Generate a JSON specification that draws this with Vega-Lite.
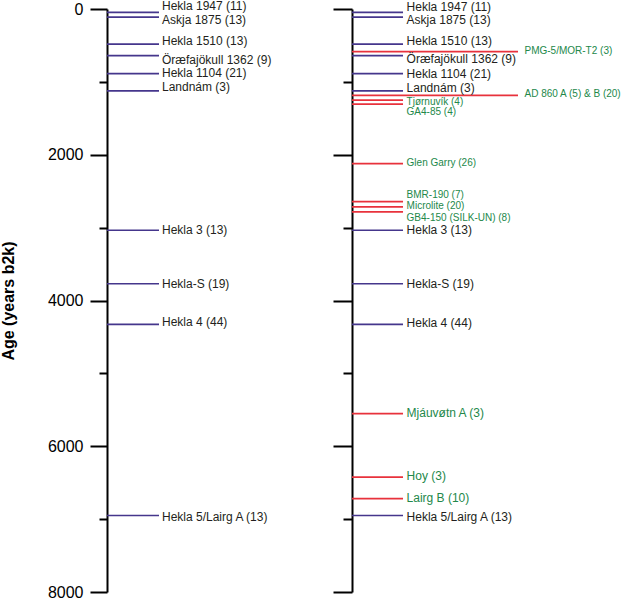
{
  "$schema": "https://vega.github.io/schema/vega-lite/v6.json",
  "padding": {"left": 0, "top": 0, "right": 0, "bottom": 0},
  "config": {
    "font": "Liberation Sans",
    "view": {"stroke": null},
    "axis": {
      "grid": false,
      "domainColor": "#000000",
      "domainWidth": 2,
      "tickColor": "#000000",
      "tickWidth": 2,
      "labelColor": "#000000",
      "labelFontSize": 16,
      "labelFont": "Liberation Sans",
      "titleFont": "Liberation Sans",
      "titleColor": "#000000",
      "titleFontSize": 16,
      "titleFontWeight": "bold"
    }
  },
  "datasets": {
    "iceland": [
      {"name": "Hekla 1947 (11)", "age": 45, "label_age": -41, "kind": "Icelandic"},
      {"name": "Askja 1875 (13)", "age": 112, "label_age": 146, "kind": "Icelandic"},
      {"name": "Hekla 1510 (13)", "age": 482, "label_age": 437, "kind": "Icelandic"},
      {"name": "Öræfajökull 1362 (9)", "age": 641, "label_age": 696, "kind": "Icelandic"},
      {"name": "Hekla 1104 (21)", "age": 886, "label_age": 880, "kind": "Icelandic"},
      {"name": "Landnám (3)", "age": 1123, "label_age": 1070, "kind": "Icelandic"},
      {"name": "Hekla 3 (13)", "age": 3036, "label_age": 3030, "kind": "Icelandic"},
      {"name": "Hekla-S (19)", "age": 3770, "label_age": 3767, "kind": "Icelandic"},
      {"name": "Hekla 4 (44)", "age": 4328, "label_age": 4300, "kind": "Icelandic"},
      {"name": "Hekla 5/Lairg A (13)", "age": 6950, "label_age": 6975, "kind": "Icelandic"}
    ],
    "europe": [
      {"name": "Hekla 1947 (11)", "age": 45, "label_age": -27, "kind": "Icelandic"},
      {"name": "Askja 1875 (13)", "age": 112, "label_age": 154, "kind": "Icelandic"},
      {"name": "Hekla 1510 (13)", "age": 482, "label_age": 436, "kind": "Icelandic"},
      {"name": "PMG-5/MOR-T2 (3)", "age": 586, "label_age": 577, "kind": "distal"},
      {"name": "Öræfajökull 1362 (9)", "age": 641, "label_age": 692, "kind": "Icelandic"},
      {"name": "Hekla 1104 (21)", "age": 886, "label_age": 892, "kind": "Icelandic"},
      {"name": "Landnám (3)", "age": 1123, "label_age": 1082, "kind": "Icelandic"},
      {"name": "AD 860 A (5) & B (20)", "age": 1186, "label_age": 1163, "kind": "distal"},
      {"name": "Tjørnuvík (4)", "age": 1250, "label_age": 1272, "kind": "distal"},
      {"name": "GA4-85 (4)", "age": 1304, "label_age": 1408, "kind": "distal"},
      {"name": "Glen Garry (26)", "age": 2122, "label_age": 2113, "kind": "distal"},
      {"name": "BMR-190 (7)", "age": 2644, "label_age": 2553, "kind": "distal"},
      {"name": "Microlite (20)", "age": 2716, "label_age": 2708, "kind": "distal"},
      {"name": "GB4-150 (SILK-UN) (8)", "age": 2785, "label_age": 2866, "kind": "distal"},
      {"name": "Hekla 3 (13)", "age": 3036, "label_age": 3039, "kind": "Icelandic"},
      {"name": "Hekla-S (19)", "age": 3770, "label_age": 3780, "kind": "Icelandic"},
      {"name": "Hekla 4 (44)", "age": 4328, "label_age": 4311, "kind": "Icelandic"},
      {"name": "Mjáuvøtn A (3)", "age": 5552, "label_age": 5538, "kind": "distal"},
      {"name": "Hoy (3)", "age": 6424, "label_age": 6402, "kind": "distal"},
      {"name": "Lairg B (10)", "age": 6720, "label_age": 6706, "kind": "distal"},
      {"name": "Hekla 5/Lairg A (13)", "age": 6950, "label_age": 6975, "kind": "Icelandic"}
    ]
  },
  "bounds": "flush",
  "spacing": 45,
  "hconcat": [
    {
      "width": 200,
      "height": 583,
      "data": {"name": "iceland"},
      "encoding": {
        "y": {
          "field": "age",
          "type": "quantitative",
          "title": "Age (years b2k)",
          "scale": {"domain": [0, 8000], "reverse": true, "nice": false, "zero": false},
          "axis": {
            "values": [0, 1000, 2000, 3000, 4000, 5000, 6000, 7000, 8000],
            "labelExpr": "datum.value % 2000 === 0 ? datum.label : ''",
            "format": "d",
            "tickSize": {"condition": {"test": "datum.value % 2000 === 0", "value": 17}, "value": 8},
            "labelPadding": 7,
            "titlePadding": 31
          }
        }
      },
      "layer": [
        {
          "mark": {"type": "rule", "strokeWidth": 1.7},
          "encoding": {
            "x": {"datum": 0, "type": "quantitative", "scale": {"domain": [0, 1]}, "axis": null},
            "x2": {"datum": 0.26},
            "stroke": {"field": "kind", "type": "nominal", "scale": {"domain": ["Icelandic", "distal"], "range": ["#45368c", "#e8323c"]}, "legend": null}
          }
        },
        {
          "mark": {"type": "text", "align": "left", "baseline": "middle", "fontSize": 12},
          "encoding": {
            "x": {"datum": 0.275, "type": "quantitative", "scale": {"domain": [0, 1]}, "axis": null},
            "y": {"field": "label_age", "type": "quantitative", "title": "Age (years b2k)"},
            "text": {"field": "name"},
            "fill": {"field": "kind", "type": "nominal", "scale": {"domain": ["Icelandic", "distal"], "range": ["#231f20", "#23884a"]}, "legend": null}
          }
        }
      ]
    },
    {
      "width": 265,
      "height": 583,
      "data": {"name": "europe"},
      "encoding": {
        "y": {
          "field": "age",
          "type": "quantitative",
          "title": null,
          "scale": {"domain": [0, 8000], "reverse": true, "nice": false, "zero": false},
          "axis": {
            "values": [0, 1000, 2000, 3000, 4000, 5000, 6000, 7000, 8000],
            "labels": false,
            "tickSize": {"condition": {"test": "datum.value % 2000 === 0", "value": 19}, "value": 9}
          }
        }
      },
      "layer": [
        {
          "transform": [{"filter": {"not": {"field": "name", "oneOf": ["PMG-5/MOR-T2 (3)", "AD 860 A (5) & B (20)"]}}}],
          "mark": {"type": "rule", "strokeWidth": 1.7},
          "encoding": {
            "x": {"datum": 0, "type": "quantitative", "scale": {"domain": [0, 1]}, "axis": null},
            "x2": {"datum": 0.1925},
            "stroke": {"field": "kind", "type": "nominal", "scale": {"domain": ["Icelandic", "distal"], "range": ["#45368c", "#e8323c"]}, "legend": null}
          }
        },
        {
          "transform": [{"filter": {"field": "name", "oneOf": ["PMG-5/MOR-T2 (3)", "AD 860 A (5) & B (20)"]}}],
          "mark": {"type": "rule", "strokeWidth": 1.7},
          "encoding": {
            "x": {"datum": 0, "type": "quantitative", "scale": {"domain": [0, 1]}, "axis": null},
            "x2": {"datum": 0.6264},
            "stroke": {"field": "kind", "type": "nominal", "scale": {"domain": ["Icelandic", "distal"], "range": ["#45368c", "#e8323c"]}, "legend": null}
          }
        },
        {
          "transform": [{"filter": {"not": {"field": "name", "oneOf": ["PMG-5/MOR-T2 (3)", "AD 860 A (5) & B (20)"]}}}],
          "mark": {"type": "text", "align": "left", "baseline": "middle"},
          "encoding": {
            "x": {"datum": 0.206, "type": "quantitative", "scale": {"domain": [0, 1]}, "axis": null},
            "y": {"field": "label_age", "type": "quantitative", "title": null},
            "text": {"field": "name"},
            "size": {"condition": {"test": "datum.kind === 'distal' && datum.age < 5000", "value": 10}, "value": 12},
            "fill": {"field": "kind", "type": "nominal", "scale": {"domain": ["Icelandic", "distal"], "range": ["#231f20", "#23884a"]}, "legend": null}
          }
        },
        {
          "transform": [{"filter": {"field": "name", "oneOf": ["PMG-5/MOR-T2 (3)", "AD 860 A (5) & B (20)"]}}],
          "mark": {"type": "text", "align": "left", "baseline": "middle", "fontSize": 10},
          "encoding": {
            "x": {"datum": 0.651, "type": "quantitative", "scale": {"domain": [0, 1]}, "axis": null},
            "y": {"field": "label_age", "type": "quantitative", "title": null},
            "text": {"field": "name"},
            "fill": {"field": "kind", "type": "nominal", "scale": {"domain": ["Icelandic", "distal"], "range": ["#231f20", "#23884a"]}, "legend": null}
          }
        }
      ]
    }
  ]
}
